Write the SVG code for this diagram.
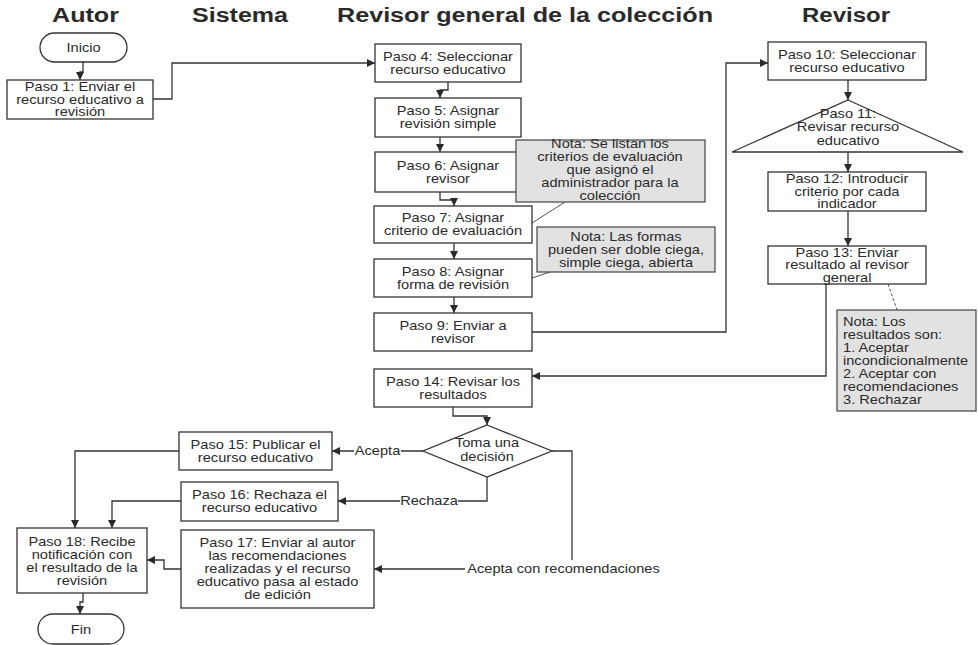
<svg xmlns="http://www.w3.org/2000/svg" width="978" height="645" viewBox="0 0 978 645">
<defs>
<marker id="arr" markerUnits="userSpaceOnUse" markerWidth="9" markerHeight="9" refX="8" refY="4" orient="auto">
<path d="M0,0 L8,4 L0,8 Z" fill="#2a2a2a"/>
</marker>
<style>
.hd{font-family:"Liberation Sans",Arial,sans-serif;font-weight:bold;font-size:20px;fill:#2a2a2a}
.t{font-family:"Liberation Sans",Arial,sans-serif;font-size:12.5px;fill:#2a2a2a;text-anchor:middle}
.tl{font-family:"Liberation Sans",Arial,sans-serif;font-size:12.5px;fill:#2a2a2a}
.box{fill:#fff;stroke:#333;stroke-width:1.3}
.note{fill:#e2e2e2;stroke:#444;stroke-width:1.2}
.c{fill:none;stroke:#333;stroke-width:1.3;marker-end:url(#arr)}
.n{fill:none;stroke:#555;stroke-width:1}
.lb{fill:#fff}
</style>
</defs>
<rect width="978" height="645" fill="#fff"/>
<g id="headers">
<text class="hd" x="52" y="22" textLength="67" lengthAdjust="spacingAndGlyphs">Autor</text>
<text class="hd" x="192" y="22" textLength="96" lengthAdjust="spacingAndGlyphs">Sistema</text>
<text class="hd" x="337" y="22" textLength="376" lengthAdjust="spacingAndGlyphs">Revisor general de la colección</text>
<text class="hd" x="802" y="22" textLength="88" lengthAdjust="spacingAndGlyphs">Revisor</text>
</g>
<g id="connectors">
<path class="c" d="M83,62 V72 H80 V80"/>
<path class="c" d="M153,99 H172 V63 H375"/>
<path class="c" d="M448,82 V90 H440 V98"/>
<path class="c" d="M440,137 V152"/>
<path class="c" d="M440,192 V200 H454 V206"/>
<path class="c" d="M454,243 V259"/>
<path class="c" d="M454,297 V313"/>
<path class="c" d="M532,332 H726 V63 H768"/>
<path class="c" d="M848,80 V100"/>
<path class="c" d="M848,152 V172"/>
<path class="c" d="M848,211 V246"/>
<path class="c" d="M826,284 V376 H532"/>
<path class="c" d="M453,407 V416 H487 V425"/>
<path class="c" d="M423,451 H332"/>
<path class="c" d="M487,477 V501 H338"/>
<path class="c" d="M552,451 H572 V569 H374"/>
<path class="c" d="M179,451 H75 V528"/>
<path class="c" d="M181,501 H112 V528"/>
<path class="c" d="M181,569 H164 V560 H147"/>
<path class="c" d="M83,593 V602 H80 V614"/>
<path class="n" d="M532,223 L565,202"/>
<path class="n" d="M532,278 L550,272"/>
<path class="n" d="M888,284 L897,310" stroke-dasharray="3,2"/>
<rect class="lb" x="354" y="443" width="47" height="15"/>
<text class="t" transform="translate(377.5,0) scale(1.17,1)" x="0" y="455.5">Acepta</text>
<rect class="lb" x="400" y="493" width="58" height="15"/>
<text class="t" transform="translate(429,0) scale(1.17,1)" x="0" y="505.5">Rechaza</text>
<rect class="lb" x="465" y="560" width="197" height="16"/>
<text class="t" transform="translate(563.5,0) scale(1.17,1)" x="0" y="573.5">Acepta con recomendaciones</text>
</g>
<g id="inicio"><rect class="box" x="40" y="33" width="87" height="29" rx="14.5"/><g transform="translate(83.5,0) scale(1.17,1)"><text class="t" x="0" y="52">Inicio</text></g></g>
<g id="paso1"><rect class="box" x="7" y="80" width="146" height="39"/><g transform="translate(80,0) scale(1.17,1)"><text class="t" x="0" y="91.5">Paso 1: Enviar el</text><text class="t" x="0" y="104">recurso educativo a</text><text class="t" x="0" y="116.5">revisión</text></g></g>
<g id="paso4"><rect class="box" x="375" y="44" width="146" height="38"/><g transform="translate(448,0) scale(1.17,1)"><text class="t" x="0" y="61.5">Paso 4: Seleccionar</text><text class="t" x="0" y="74.5">recurso educativo</text></g></g>
<g id="paso5"><rect class="box" x="375" y="98" width="146" height="39"/><g transform="translate(448,0) scale(1.17,1)"><text class="t" x="0" y="115.5">Paso 5: Asignar</text><text class="t" x="0" y="128.5">revisión simple</text></g></g>
<g id="paso6"><rect class="box" x="375" y="152" width="146" height="40"/><g transform="translate(448,0) scale(1.17,1)"><text class="t" x="0" y="170">Paso 6: Asignar</text><text class="t" x="0" y="183">revisor</text></g></g>
<g id="paso7"><rect class="box" x="374" y="206" width="158" height="37"/><g transform="translate(453,0) scale(1.17,1)"><text class="t" x="0" y="222.5">Paso 7: Asignar</text><text class="t" x="0" y="235.5">criterio de evaluación</text></g></g>
<g id="paso8"><rect class="box" x="374" y="259" width="158" height="38"/><g transform="translate(453,0) scale(1.17,1)"><text class="t" x="0" y="276">Paso 8: Asignar</text><text class="t" x="0" y="289">forma de revisión</text></g></g>
<g id="paso9"><rect class="box" x="374" y="313" width="158" height="38"/><g transform="translate(453,0) scale(1.17,1)"><text class="t" x="0" y="330">Paso 9: Enviar a</text><text class="t" x="0" y="343">revisor</text></g></g>
<g id="paso14"><rect class="box" x="374" y="369" width="158" height="38"/><g transform="translate(453,0) scale(1.17,1)"><text class="t" x="0" y="386">Paso 14: Revisar los</text><text class="t" x="0" y="399">resultados</text></g></g>
<g id="nota1"><rect class="note" x="516" y="140" width="189" height="62"/><g transform="translate(610,0) scale(1.17,1)"><text class="t" x="0" y="148">Nota: Se listan los</text><text class="t" x="0" y="161">criterios de evaluación</text><text class="t" x="0" y="174">que asignó el</text><text class="t" x="0" y="187">administrador para la</text><text class="t" x="0" y="200">colección</text></g></g>
<g id="nota2"><rect class="note" x="537" y="227" width="178" height="45"/><g transform="translate(626,0) scale(1.17,1)"><text class="t" x="0" y="241">Nota: Las formas</text><text class="t" x="0" y="254">pueden ser doble ciega,</text><text class="t" x="0" y="267">simple ciega, abierta</text></g></g>
<g id="paso10"><rect class="box" x="768" y="42" width="158" height="38"/><g transform="translate(847,0) scale(1.17,1)"><text class="t" x="0" y="59">Paso 10: Seleccionar</text><text class="t" x="0" y="72">recurso educativo</text></g></g>
<g id="paso11"><polygon class="box" points="848,100 963,152 732,152"/><g transform="translate(848,0) scale(1.17,1)"><text class="t" x="0" y="118">Paso 11:</text><text class="t" x="0" y="131.5">Revisar recurso</text><text class="t" x="0" y="145">educativo</text></g></g>
<g id="paso12"><rect class="box" x="768" y="172" width="158" height="39"/><g transform="translate(847,0) scale(1.17,1)"><text class="t" x="0" y="183.5">Paso 12: Introducir</text><text class="t" x="0" y="196">criterio por cada</text><text class="t" x="0" y="208.5">indicador</text></g></g>
<g id="paso13"><rect class="box" x="768" y="246" width="158" height="38"/><g transform="translate(847,0) scale(1.17,1)"><text class="t" x="0" y="257">Paso 13: Enviar</text><text class="t" x="0" y="269.5">resultado al revisor</text><text class="t" x="0" y="282">general</text></g></g>
<g id="nota3"><rect class="note" x="837" y="310" width="139" height="101"/><g transform="translate(843,0) scale(1.17,1)"><text class="tl" x="0" y="326">Nota: Los</text><text class="tl" x="0" y="339">resultados son:</text><text class="tl" x="0" y="352">1. Aceptar</text><text class="tl" x="0" y="365">incondicionalmente</text><text class="tl" x="0" y="378">2. Aceptar con</text><text class="tl" x="0" y="391">recomendaciones</text><text class="tl" x="0" y="404">3. Rechazar</text></g></g>
<g id="decision"><polygon class="box" points="487,425 552,451 487,477 423,451"/><g transform="translate(487,0) scale(1.17,1)"><text class="t" x="0" y="447">Toma una</text><text class="t" x="0" y="461">decisión</text></g></g>
<g id="paso15"><rect class="box" x="179" y="432" width="153" height="38"/><g transform="translate(255.5,0) scale(1.17,1)"><text class="t" x="0" y="449.5">Paso 15: Publicar el</text><text class="t" x="0" y="462">recurso educativo</text></g></g>
<g id="paso16"><rect class="box" x="181" y="482" width="157" height="39"/><g transform="translate(259.5,0) scale(1.17,1)"><text class="t" x="0" y="499.5">Paso 16: Rechaza el</text><text class="t" x="0" y="512">recurso educativo</text></g></g>
<g id="paso17"><rect class="box" x="181" y="530" width="193" height="78"/><g transform="translate(277.5,0) scale(1.17,1)"><text class="t" x="0" y="547.5">Paso 17: Enviar al autor</text><text class="t" x="0" y="560.5">las recomendaciones</text><text class="t" x="0" y="573.5">realizadas y el recurso</text><text class="t" x="0" y="586.5">educativo pasa al estado</text><text class="t" x="0" y="599.5">de edición</text></g></g>
<g id="paso18"><rect class="box" x="17" y="528" width="130" height="65"/><g transform="translate(82,0) scale(1.17,1)"><text class="t" x="0" y="546">Paso 18: Recibe</text><text class="t" x="0" y="559">notificación con</text><text class="t" x="0" y="572">el resultado de la</text><text class="t" x="0" y="585">revisión</text></g></g>
<g id="fin"><rect class="box" x="38" y="614" width="86" height="30" rx="15"/><g transform="translate(81,0) scale(1.17,1)"><text class="t" x="0" y="634">Fin</text></g></g>
</svg>
